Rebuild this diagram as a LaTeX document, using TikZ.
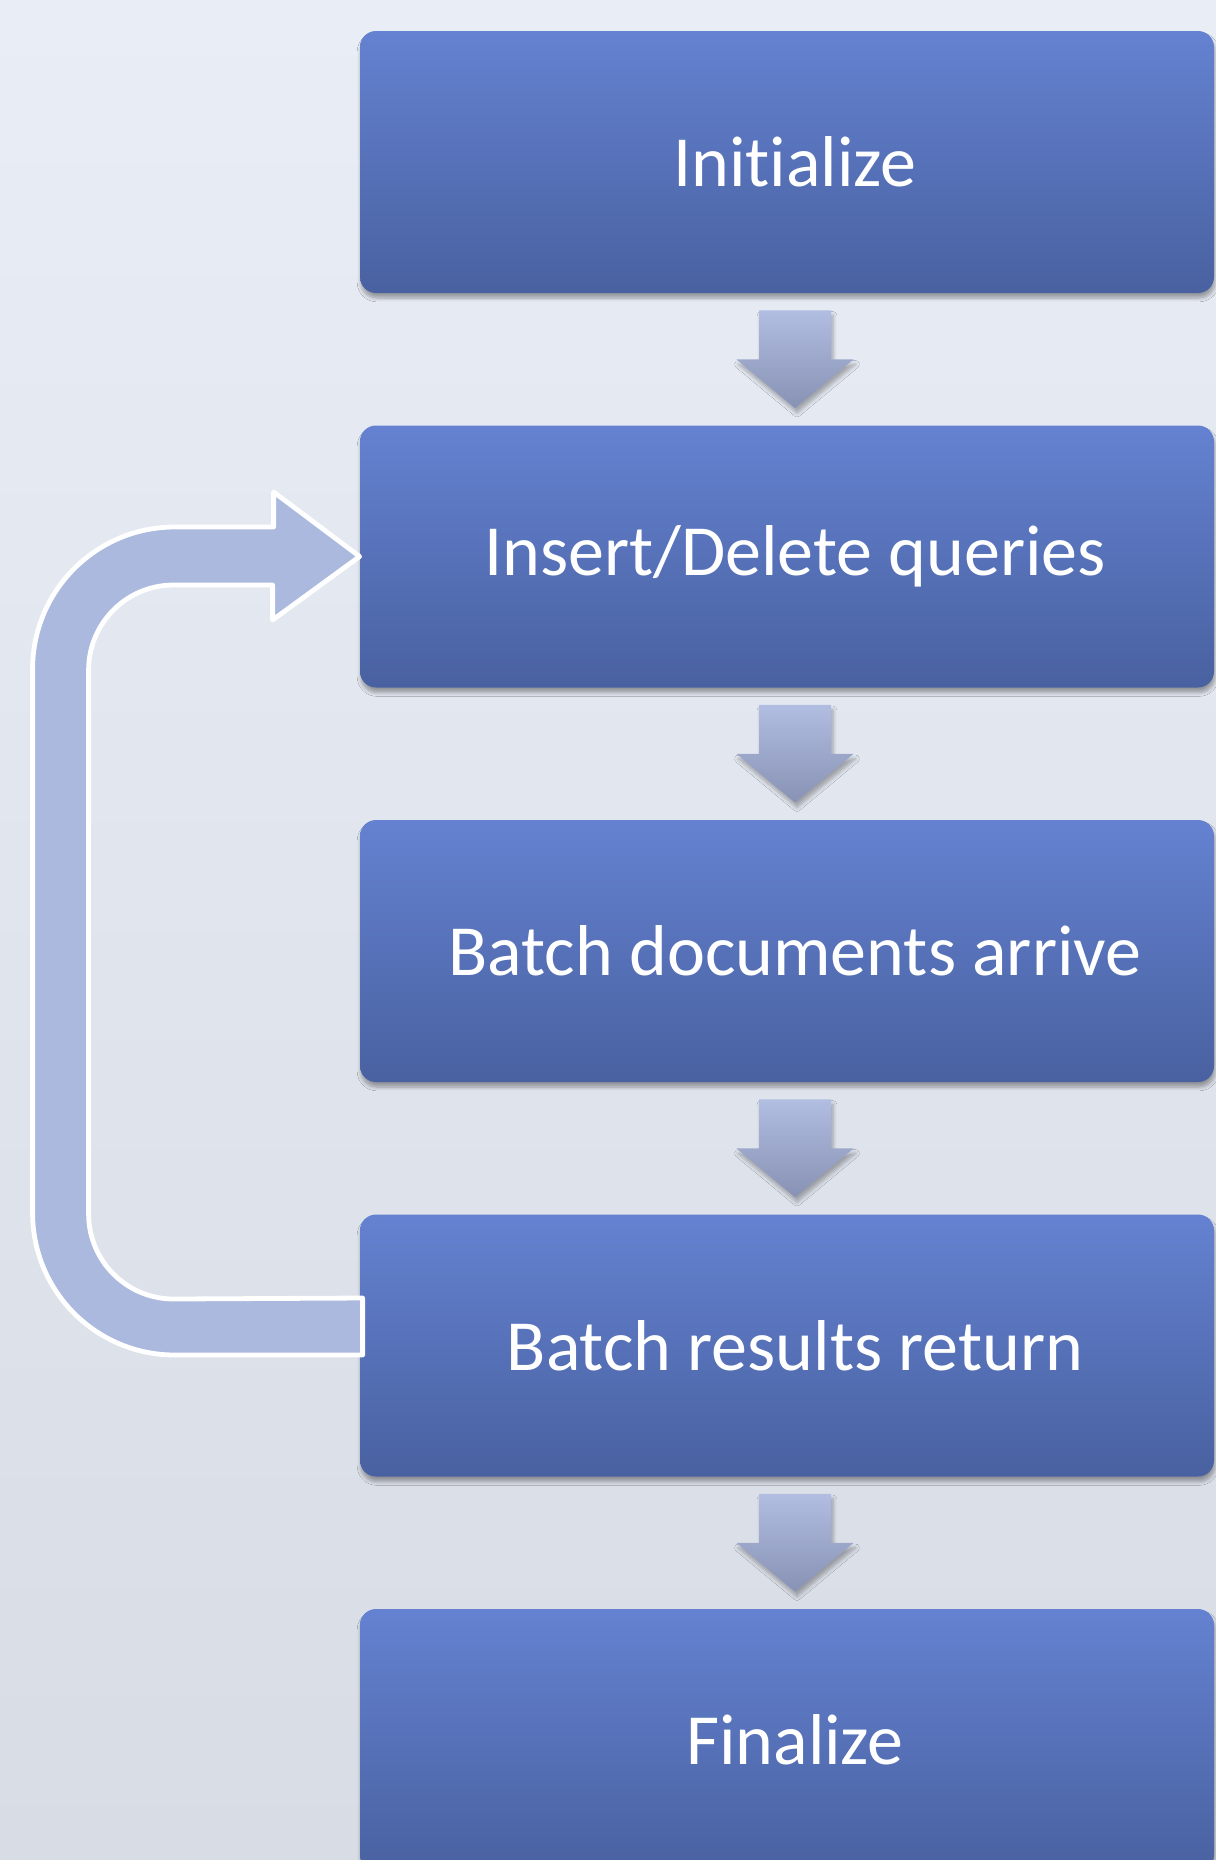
\documentclass[tikz,border=0pt]{standalone}
\usepackage{fontspec}
\setmainfont{Carlito}[Ligatures={NoCommon}]
\usetikzlibrary{calc, shadows.blur}

\definecolor{bgtop}{HTML}{E9EDF5}
\definecolor{bgbot}{HTML}{D8DCE5}
\definecolor{boxtop}{HTML}{6482D1}
\definecolor{boxbot}{HTML}{4961A0}
\definecolor{arrtop}{HTML}{B1BDE1}
\definecolor{arrbot}{HTML}{8792B4}
\definecolor{loopfill}{HTML}{ABB9DE}

\begin{document}
\begin{tikzpicture}[x=0.5pt, y=0.5pt,
  stepbox/.style={rounded corners=8pt, minimum width=427pt, minimum height=131pt,
    top color=boxtop, bottom color=boxbot, text=white,
    font=\fontsize{36}{40}\selectfont,
    blur shadow={shadow xshift=0.5pt, shadow yshift=-2.5pt, shadow blur steps=6, shadow opacity=35}},
  downarr/.style={top color=arrtop, bottom color=arrbot,
    blur shadow={shadow xshift=1pt, shadow yshift=-2.5pt, shadow blur steps=5, shadow opacity=30}},
  looparr/.style={fill=loopfill, draw=white, line width=2.4pt, line join=round}]

  % Background
  \useasboundingbox (0,0) rectangle (1216,-1860);
  \clip (0,0) rectangle (1216,-1860);
  \shade[top color=bgtop, bottom color=bgbot] (0,0) rectangle (1216,-1860);

  % Steps
  \node[stepbox] (init)   at (787,-162)    {\hspace{8pt}Initialize};
  \node[stepbox] (insdel) at (787,-556.5)  {\hspace{8pt}Insert/Delete queries};
  \node[stepbox] (arrive) at (787,-951)    {\hspace{8pt}Batch documents arrive};
  \node[stepbox] (ret)    at (787,-1345.5) {\hspace{8pt}Batch results return};
  \node[stepbox] (final)  at (787,-1740)   {\hspace{8pt}Finalize};

  % Down arrows between steps
  \foreach \a/\b in {init/insdel, insdel/arrive, arrive/ret, ret/final}
    \path[downarr] ($(\a.south)+(-28,-17)$) -- ++(72,0) -- ++(0,-49) -- ++(22.5,0)
      -- ($(\b.north)+(8,17)$) -- ($(\a.south)+(-50.5,-66)$) -- ++(22.5,0) -- cycle;

  % Loop back from results to queries
  \draw[looparr] (insdel.west) -- ++(-87,-63.5) -- ++(0,35) -- ++(-99,0)
    arc[start angle=90, end angle=180, radius=85] -- ++(0,-544)
    arc[start angle=180, end angle=270, radius=85] -- ($(ret.west)+(3,47.5)$)
    -- ++(0,-57) -- ++(-188,0)
    arc[start angle=270, end angle=180, radius=142] -- ++(0,544)
    arc[start angle=180, end angle=90, radius=142] -- ++(99,0) -- ++(0,35) -- cycle;
\end{tikzpicture}
\end{document}
